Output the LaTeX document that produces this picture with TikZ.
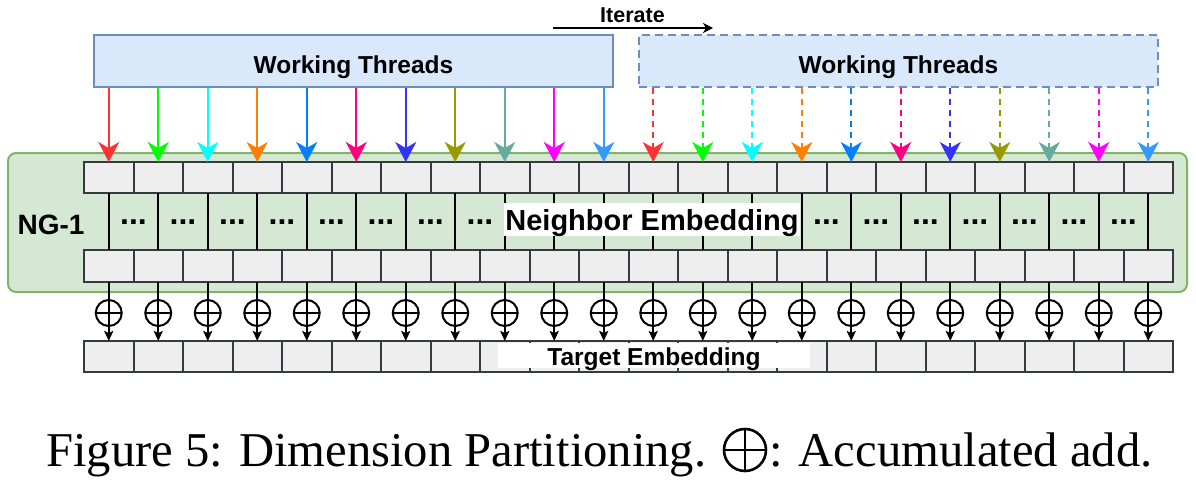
\documentclass[tikz,border=0pt]{standalone}
\usepackage{fontspec}
\setmainfont{Liberation Serif}
\newfontfamily\lsans{Liberation Sans}
\usetikzlibrary{arrows.meta}
\definecolor{cellfill}{HTML}{EEEEEE}
\definecolor{celldraw}{HTML}{36393D}
\definecolor{ngfill}{HTML}{D5E8D4}
\definecolor{ngdraw}{HTML}{82B366}
\definecolor{wtfill}{HTML}{DAE8FC}
\definecolor{wtdraw}{HTML}{6C8EBF}
\definecolor{ca}{HTML}{FF3333}
\definecolor{cb}{HTML}{00FF00}
\definecolor{cc}{HTML}{00FFFF}
\definecolor{cd}{HTML}{FF8000}
\definecolor{ce}{HTML}{007FFF}
\definecolor{cf}{HTML}{FF0080}
\definecolor{cg}{HTML}{3333FF}
\definecolor{ch}{HTML}{999900}
\definecolor{ci}{HTML}{67AB9F}
\definecolor{cj}{HTML}{FF00FF}
\definecolor{ck}{HTML}{3399FF}
\begin{document}
\begin{tikzpicture}[x=1pt,y=-1pt,
  cellbox/.style={draw=celldraw, fill=cellfill, line width=2pt, minimum width=49.5pt, minimum height=31pt, inner sep=0pt, outer sep=0pt},
  wtbox/.style={draw=wtdraw, fill=wtfill, line width=2pt, minimum width=519pt, minimum height=52pt, inner sep=0pt, font=\lsans\bfseries\fontsize{24.5}{28}\selectfont},
  thread/.style={line width=2pt, -{Stealth[length=20pt,width=21pt,inset=6pt]}},
  dotlbl/.style={inner sep=0pt, font=\lsans\bfseries\fontsize{32}{32}\selectfont},
  sumop/.style={circle, draw, line width=2pt, minimum size=26pt, inner sep=0pt,
    path picture={\draw[line width=2pt] (path picture bounding box.west) -- (path picture bounding box.east);}},
  capop/.style={circle, draw, line width=2.6pt, minimum size=42pt, inner sep=0pt,
    path picture={\draw[line width=2.6pt] (path picture bounding box.west) -- (path picture bounding box.east)
      (path picture bounding box.north) -- (path picture bounding box.south);}},
  acc/.style={line width=2pt, -{Stealth[length=10pt,width=9pt,inset=2pt]}},
  whitelbl/.style={fill=white, inner sep=0pt, font=\lsans\bfseries},
  captxt/.style={anchor=base west, inner sep=0pt, font=\fontsize{48.6}{60}\selectfont}
]
\useasboundingbox (0,0) rectangle (1196,482);

% container
\node[draw=ngdraw, fill=ngfill, line width=2pt, rounded corners=8pt, minimum width=1179pt, minimum height=139pt, inner sep=0pt] (ng) at (597.5,222.5) {};
\node[font=\lsans\bfseries\fontsize{28}{30}\selectfont, inner sep=0pt, anchor=base] (nglbl) at (51,234.5) {NG-1};

% working threads boxes
\node[wtbox] (wt1) at (353.5,61) {\raisebox{-12pt}[0pt][0pt]{Working Threads}};
\node[wtbox, dashed, dash pattern=on 8pt off 5pt] (wt2) at (898.5,61) {\raisebox{-12pt}[0pt][0pt]{Working Threads}};

% iterate
\coordinate (itA) at (553,28);
\coordinate (itB) at (713,28);
\draw[line width=2pt, -{Stealth[length=10pt,width=10pt,inset=3pt]}] (itA) -- (itB);
\node[font=\lsans\bfseries\fontsize{21.5}{23}\selectfont, inner sep=0pt, anchor=base] (itlbl) at (632.5,22.5) {Iterate};

% cells
\foreach \i in {0,...,21}{
  \node[cellbox] (t\i) at ({84+49.5*\i+24.75},177.5) {};
  \node[cellbox, minimum height=32pt] (b\i) at ({84+49.5*\i+24.75},266) {};
  \node[cellbox] (g\i) at ({84+49.5*\i+24.75},356.5) {};
}

% middle lines
\foreach \i in {0,...,21}{
  \draw[line width=2pt] (t\i.south) -- (b\i.north);
}
% dots
\foreach \i in {1,...,8,15,16,...,21}{
  \node[dotlbl] (d\i) at ({84+49.5*\i},222) {...};
}
\node[whitelbl, minimum width=296pt, minimum height=33pt, font=\lsans\bfseries\fontsize{29}{30}\selectfont] (nelbl) at (652,219.5) {\raisebox{-10.5pt}[0pt][0pt]{Neighbor Embedding}};

% accumulate
\foreach \i in {0,...,21}{
  \node[sumop] (op\i) at ({84+49.5*\i+24.75},313) {};
  \draw[acc] (b\i.south) -- (g\i.north);
}
\node[whitelbl, minimum width=312pt, minimum height=25pt, font=\lsans\bfseries\fontsize{24.5}{26}\selectfont] (telbl) at (654,355.5) {\raisebox{-9.5pt}[0pt][0pt]{Target Embedding}};

% thread arrows
\foreach \i/\c in {0/ca,1/cb,2/cc,3/cd,4/ce,5/cf,6/cg,7/ch,8/ci,9/cj,10/ck}{
  \draw[thread, \c] (t\i.north |- wt1.south) -- (t\i.north);
}
\foreach \i/\c in {11/ca,12/cb,13/cc,14/cd,15/ce,16/cf,17/cg,18/ch,19/ci,20/cj,21/ck}{
  \draw[thread, \c, dash pattern=on 6pt off 5pt] (t\i.north |- wt2.south) -- (t\i.north);
}

% caption
\node[captxt] (cap1) at (46,466) {Figure 5: Dimension Partitioning.};
\node[capop] (capsym) at (745,450) {};
\node[captxt] (cap2) at (769,466) {: Accumulated add.};
\end{tikzpicture}
\end{document}
